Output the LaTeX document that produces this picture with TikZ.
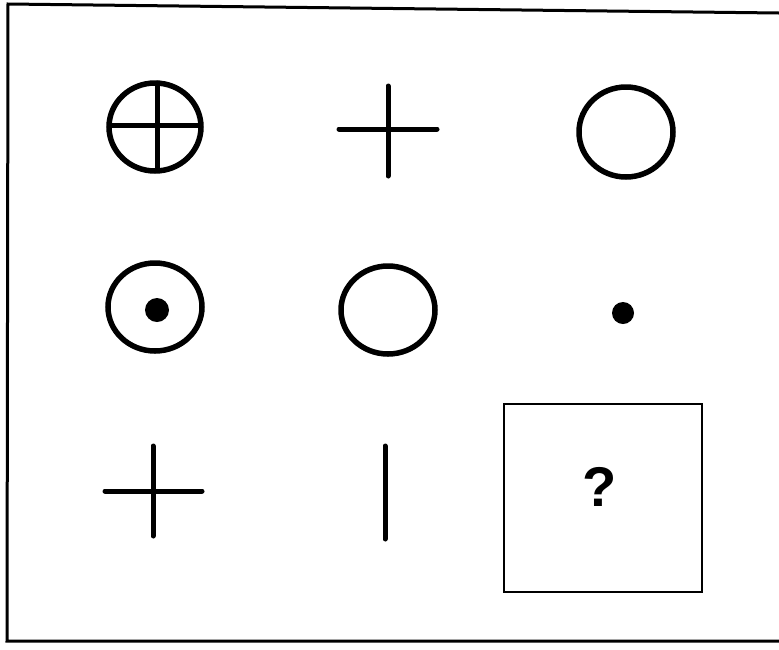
\documentclass[tikz,border=0pt]{standalone}
\usepackage{fontspec}
\setsansfont{Liberation Sans}
\usepackage{tikz}
\usetikzlibrary{positioning}

\begin{document}
\begin{tikzpicture}[x=1pt, y=-1pt,
    figline/.style={line width=5pt, line cap=round},
    ring/.style={draw, line width=5.5pt},
    blob/.style={fill=black},
    answer/.style={draw, line width=2.2pt, minimum width=198pt, minimum height=188pt, inner sep=0pt},
]
\useasboundingbox (0,0) rectangle (779,649);

% frame (open on the right)
\draw[line width=3pt] (779,13) -- (8,4) -- (7,641) -- (779,641);

% row 1
\coordinate (c11) at (155,127);
\coordinate (c12) at (388,130);
\coordinate (c13) at (626,132);
\draw[ring] (c11) circle[x radius=46, y radius=44];
\draw[figline] (110,125) -- (200,125);
\draw[figline] (157,83) -- (157,170);
\draw[figline] (339,129) -- (437,129);
\draw[figline] (388,86) -- (388,176);
\draw[ring] (c13) circle[x radius=47, y radius=45];

% row 2
\coordinate (c21) at (155,307);
\coordinate (c22) at (388,310);
\coordinate (c23) at (623,313);
\draw[ring] (c21) circle[x radius=47, y radius=44];
\fill[blob] (157,310) circle[radius=12];
\draw[ring] (c22) circle[x radius=47, y radius=44];
\fill[blob] (c23) circle[radius=11];

% row 3
\draw[figline] (105,491) -- (202,491);
\draw[figline] (153,446) -- (153,536);
\draw[figline] (385,446) -- (385,539);
\node[answer] (q) at (603,498) {};
\node[font=\sffamily\bfseries\fontsize{56}{56}\selectfont] (mark) at (600,487) {?};

\end{tikzpicture}
\end{document}
